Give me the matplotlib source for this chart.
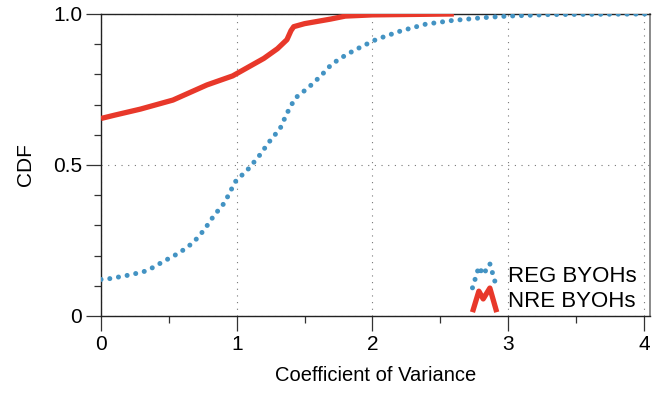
import numpy as np
import matplotlib
matplotlib.use("Agg")
import matplotlib.pyplot as plt
from matplotlib.lines import Line2D
from matplotlib.legend_handler import HandlerBase
from matplotlib.ticker import MultipleLocator

plt.rcParams["font.family"] = ["Liberation Sans", "DejaVu Sans"]

# CDF of the coefficient of variance
reg_x = [0, 0.07, 0.2, 0.31, 0.36, 0.47, 0.58, 0.68, 0.76, 0.83, 0.91, 0.99,
         1.09, 1.17, 1.24, 1.32, 1.37, 1.43, 1.53, 1.62, 1.70, 1.81, 1.92,
         2.03, 2.21, 2.39, 2.58, 2.82, 3.0, 3.3, 4.05]
reg_y = [0.121, 0.124, 0.135, 0.146, 0.155, 0.183, 0.21, 0.243, 0.285, 0.331,
         0.375, 0.445, 0.489, 0.533, 0.577, 0.621, 0.671, 0.721, 0.757, 0.795,
         0.834, 0.866, 0.892, 0.916, 0.944, 0.966, 0.978, 0.988, 0.993, 0.998, 1.0]

nre_x = [0, 0.1, 0.29, 0.53, 0.78, 0.97, 1.2, 1.3, 1.37, 1.40, 1.42, 1.5,
         1.69, 1.8, 2.0, 2.6]
nre_y = [0.654, 0.665, 0.685, 0.715, 0.765, 0.795, 0.853, 0.885, 0.915, 0.945,
         0.958, 0.968, 0.983, 0.993, 0.997, 1.0]

BLUE = "#4393c3"
RED = "#e8382a"


class ZigzagHandler(HandlerBase):
    # legend key drawn as a little "M" shape
    def create_artists(self, legend, orig_handle, xdescent, ydescent,
                       width, height, fontsize, trans):
        xs = np.array([0.05, 0.3, 0.47, 0.73, 1.0]) * width - xdescent
        ys = np.array([-0.35, 1.0, 0.5, 1.2, -0.35]) * height - ydescent
        line = Line2D(xs, ys)
        self.update_prop(line, orig_handle, legend)
        line.set_transform(trans)
        return [line]


fig = plt.figure(figsize=(6.62, 3.94), dpi=100)
ax = fig.add_axes([0.1526, 0.198, 0.829, 0.7665])

reg_line, = ax.plot(reg_x, reg_y, color=BLUE, linewidth=3.6,
                    linestyle=(0, (0.01, 1.75)), dash_capstyle="round",
                    solid_capstyle="round", label="REG BYOHs", zorder=3)
nre_line, = ax.plot(nre_x, nre_y, color=RED, linewidth=3.8,
                    solid_capstyle="butt", label="NRE BYOHs", zorder=4)

ax.set_xlim(0, 4.044)
ax.set_ylim(0, 1.0)
ax.xaxis.set_major_locator(MultipleLocator(1))
ax.xaxis.set_minor_locator(MultipleLocator(0.5))
ax.yaxis.set_minor_locator(MultipleLocator(0.1))
ax.set_yticks([0, 0.5, 1.0])
ax.set_yticklabels(["0", "0.5", "1.0"])

ax.tick_params(which="major", direction="out", length=10.5, width=0.9,
               labelsize=15, color="#333333", pad=3)
ax.tick_params(which="minor", direction="out", length=5, width=0.9,
               color="#333333")

ax.grid(True, which="major", linestyle=(0, (1, 5)), color="#777777",
        linewidth=0.8)
for side in ["left", "bottom", "top"]:
    ax.spines[side].set_color("#222222")
    ax.spines[side].set_linewidth(1.0)
ax.spines["right"].set_color("#777777")
ax.spines["right"].set_linewidth(1.2)

ax.set_xlabel("Coefficient of Variance", fontsize=14.5, labelpad=9)
ax.set_ylabel("CDF", fontsize=15, labelpad=13)

ax.legend(handles=[reg_line, nre_line], loc="lower right", frameon=False,
          fontsize=16, handlelength=1.15, handletextpad=0.5,
          labelspacing=0.15, borderaxespad=0.2, borderpad=0.4,
          bbox_to_anchor=(1.0, -0.03),
          handler_map={Line2D: ZigzagHandler()})

fig.savefig("out.png", dpi=100)
